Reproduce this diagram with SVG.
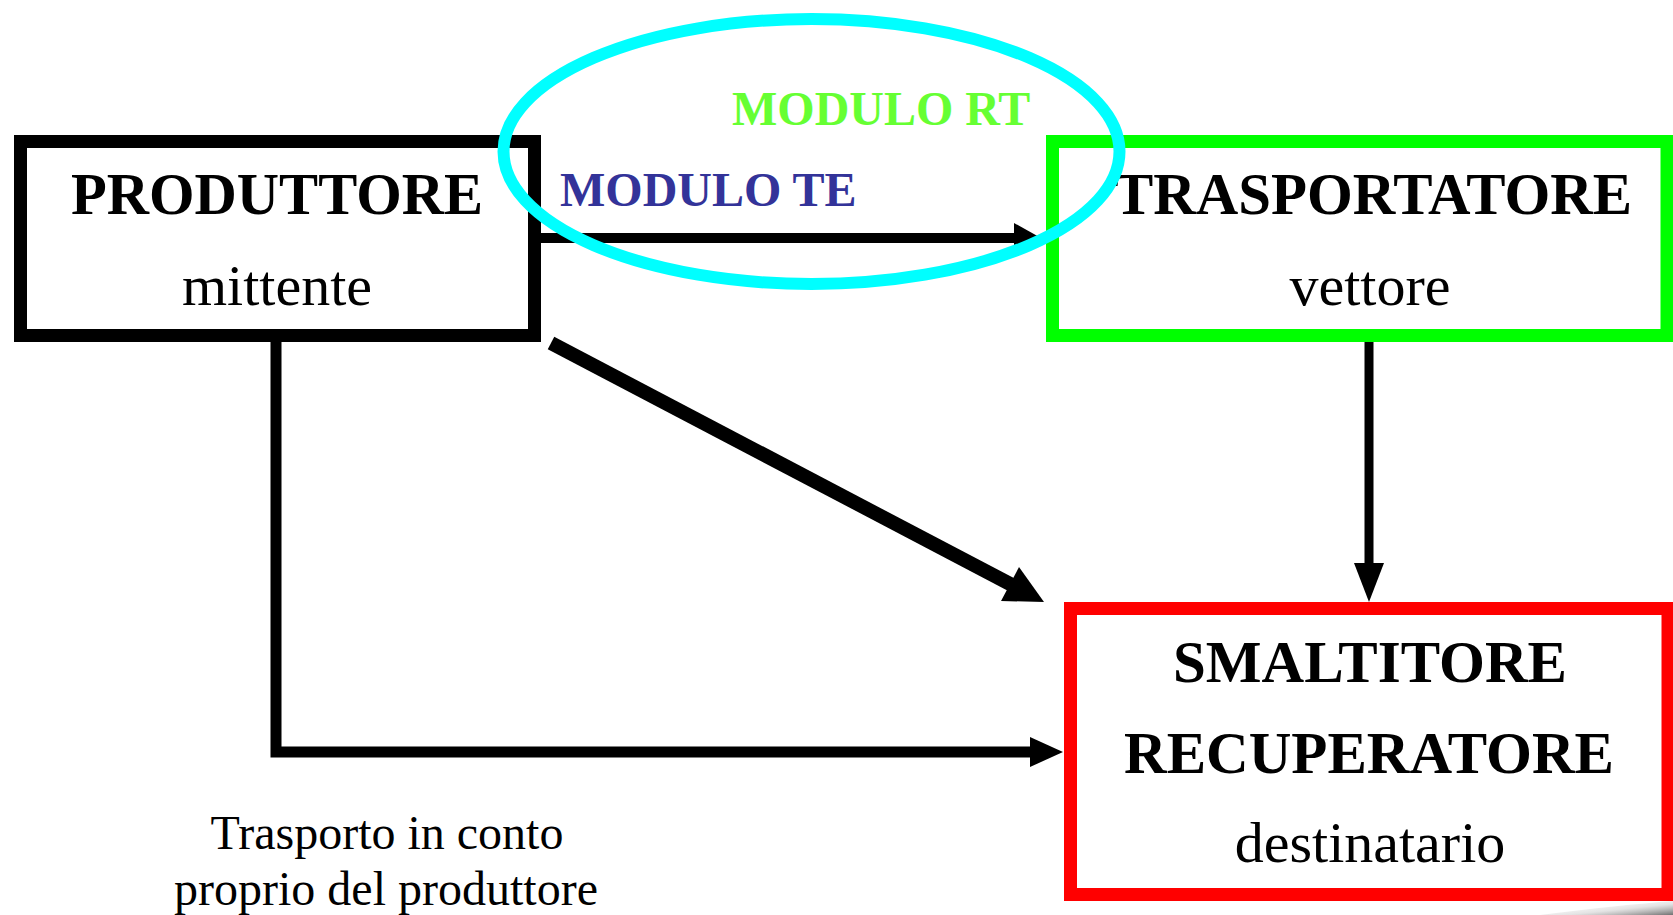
<svg xmlns="http://www.w3.org/2000/svg" width="1673" height="915" viewBox="0 0 1673 915">
  <defs>
    <style>
      .box { fill: #ffffff; stroke-width: 13; }
      .title { font-family: "Liberation Serif", "Times New Roman", serif; font-weight: bold; font-size: 59px; fill: #000; text-anchor: middle; }
      .sub { font-family: "Liberation Serif", "Times New Roman", serif; font-size: 58px; fill: #000; text-anchor: middle; }
      .mod { font-family: "Liberation Serif", "Times New Roman", serif; font-weight: bold; font-size: 48px; }
      .note { font-family: "Liberation Serif", "Times New Roman", serif; font-size: 48px; fill: #000; text-anchor: middle; }
      .conn { fill: none; stroke: #000; stroke-linejoin: miter; stroke-linecap: butt; }
      .head { fill: #000; stroke: none; }
    </style>
    <linearGradient id="shade" x1="0" y1="0" x2="1" y2="1">
      <stop offset="0" stop-color="#ffffff" stop-opacity="0"/>
      <stop offset="0.6" stop-color="#d8d8d8" stop-opacity="0.7"/>
      <stop offset="1" stop-color="#707070" stop-opacity="1"/>
    </linearGradient>
  </defs>
  <rect x="0" y="0" width="1673" height="915" fill="#ffffff"/>

  <g id="connectors">
    <line class="conn" x1="541" y1="238" x2="1016" y2="238" stroke-width="10"/>
    <polygon class="head" points="1014,223 1041,238 1014,253"/>
    <line class="conn" x1="1369" y1="342" x2="1369" y2="566" stroke-width="9"/>
    <polygon class="head" points="1354,563 1384,563 1369,602"/>
    <line class="conn" x1="551" y1="343" x2="1012" y2="585" stroke-width="14"/>
    <polygon class="head" points="1019,567 1044,602 1001,601"/>
    <path class="conn" d="M276,341 V752 H1032" stroke-width="11"/>
    <polygon class="head" points="1030,737 1063,752 1030,767"/>
  </g>

  <g id="produttore">
    <rect class="box" x="20.5" y="141.5" width="514" height="194" stroke="#000000"/>
    <text class="title" x="277" y="214" textLength="412" lengthAdjust="spacingAndGlyphs">PRODUTTORE</text>
    <text class="sub" x="277" y="305">mittente</text>
  </g>

  <g id="trasportatore">
    <rect class="box" x="1052.5" y="141.5" width="614.5" height="194" stroke="#00ff00"/>
    <text class="title" x="1373" y="214" textLength="518" lengthAdjust="spacingAndGlyphs">TRASPORTATORE</text>
    <text class="sub" x="1370" y="305">vettore</text>
  </g>

  <g id="smaltitore">
    <rect class="box" x="1070.5" y="608.5" width="597.5" height="286" stroke="#ff0000"/>
    <text class="title" x="1370" y="682" textLength="394" lengthAdjust="spacingAndGlyphs">SMALTITORE</text>
    <text class="title" x="1369" y="773" textLength="490" lengthAdjust="spacingAndGlyphs">RECUPERATORE</text>
    <text class="sub" x="1370" y="862">destinatario</text>
  </g>

  <g id="modulo-te">
    <text class="mod" x="560" y="206" fill="#333399">MODULO TE</text>
  </g>

  <g id="modulo-rt">
    <text class="mod" x="732" y="125" fill="#66ff33">MODULO RT</text>
    <ellipse cx="811.5" cy="151.5" rx="308" ry="132.5" fill="none" stroke="#00ffff" stroke-width="12"/>
  </g>

  <g id="nota">
    <text class="note" x="387" y="849">Trasporto in conto</text>
    <text class="note" x="386" y="905">proprio del produttore</text>
  </g>

  <path d="M1540,915 Q1620,905 1673,901 V915 Z" fill="url(#shade)"/>
</svg>
